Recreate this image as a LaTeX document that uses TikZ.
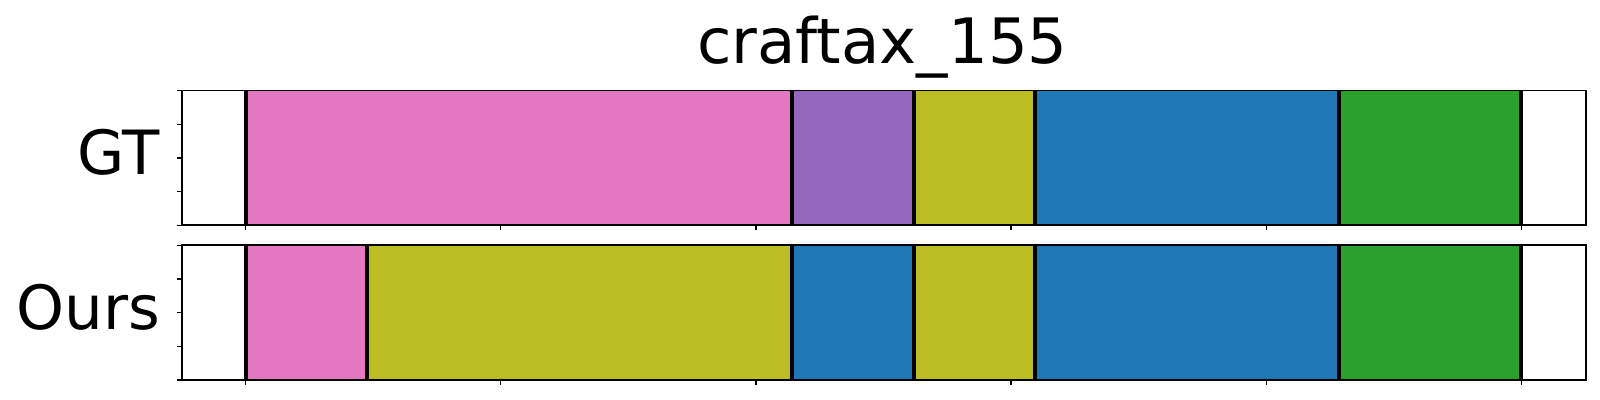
\documentclass[tikz,border=0pt]{standalone}
\usepackage{fontspec}
\setmainfont{DejaVu Sans}
\definecolor{tpink}{HTML}{E377C2}
\definecolor{tpurple}{HTML}{9467BD}
\definecolor{tolive}{HTML}{BCBD22}
\definecolor{tblue}{HTML}{1F77B4}
\definecolor{tgreen}{HTML}{2CA02C}
\tikzset{
  seg/.style={draw=black!60, line width=0.3pt},
  sep/.style={line width=2pt, black},
  frame/.style={line width=0.8pt, black},
  tick/.style={line width=0.6pt, black},
  lab/.style={inner sep=0pt, font=\fontsize{30.5}{36}\selectfont},
}
\begin{document}
\begin{tikzpicture}[x=0.5pt,y=-0.5pt]
\useasboundingbox (0,0) rectangle (1600,400);
% title
\node[inner sep=0pt, anchor=base, font=\fontsize{31.3}{38}\selectfont] (title) at (882.5,63.3) {craftax\_155};
% labels
\node[lab, anchor=base east] (gt) at (160.5,175) {GT};
\node[lab, anchor=base east] (ours) at (160.5,330) {Ours};
% GT segments
\foreach \a/\b/\c in {245.7/792/tpink, 792/913.7/tpurple, 913.7/1035/tolive, 1035/1339/tblue, 1339/1521.3/tgreen}
  \fill[fill=\c, seg] (\a,90.7) rectangle (\b,225.3);
% Ours segments
\foreach \a/\b/\c in {245.7/366.7/tpink, 366.7/792/tolive, 792/913.7/tblue, 913.7/1035/tolive, 1035/1339/tblue, 1339/1521.3/tgreen}
  \fill[fill=\c, seg] (\a,245.3) rectangle (\b,380);
% separators
\foreach \x in {245.7,792,913.7,1035,1339,1521.3}
  \draw[sep] (\x,90.7) -- (\x,225.3);
\foreach \x in {245.7,366.7,792,913.7,1035,1339,1521.3}
  \draw[sep] (\x,245.3) -- (\x,380);
% frames
\draw[frame] (181.7,90.7) rectangle (1585.7,225.3);
\draw[frame] (181.7,245.3) rectangle (1585.7,380);
% ticks
\foreach \i in {0,...,5} {
  \draw[tick] ({245.7+255.1*\i},225.3) -- ++(0,5);
  \draw[tick] ({245.7+255.1*\i},380) -- ++(0,5);
}
\foreach \i in {0,...,4} {
  \draw[tick] (181.7,{90.7+33.65*\i}) -- ++(-5,0);
  \draw[tick] (181.7,{245.3+33.675*\i}) -- ++(-5,0);
}
\end{tikzpicture}
\end{document}
